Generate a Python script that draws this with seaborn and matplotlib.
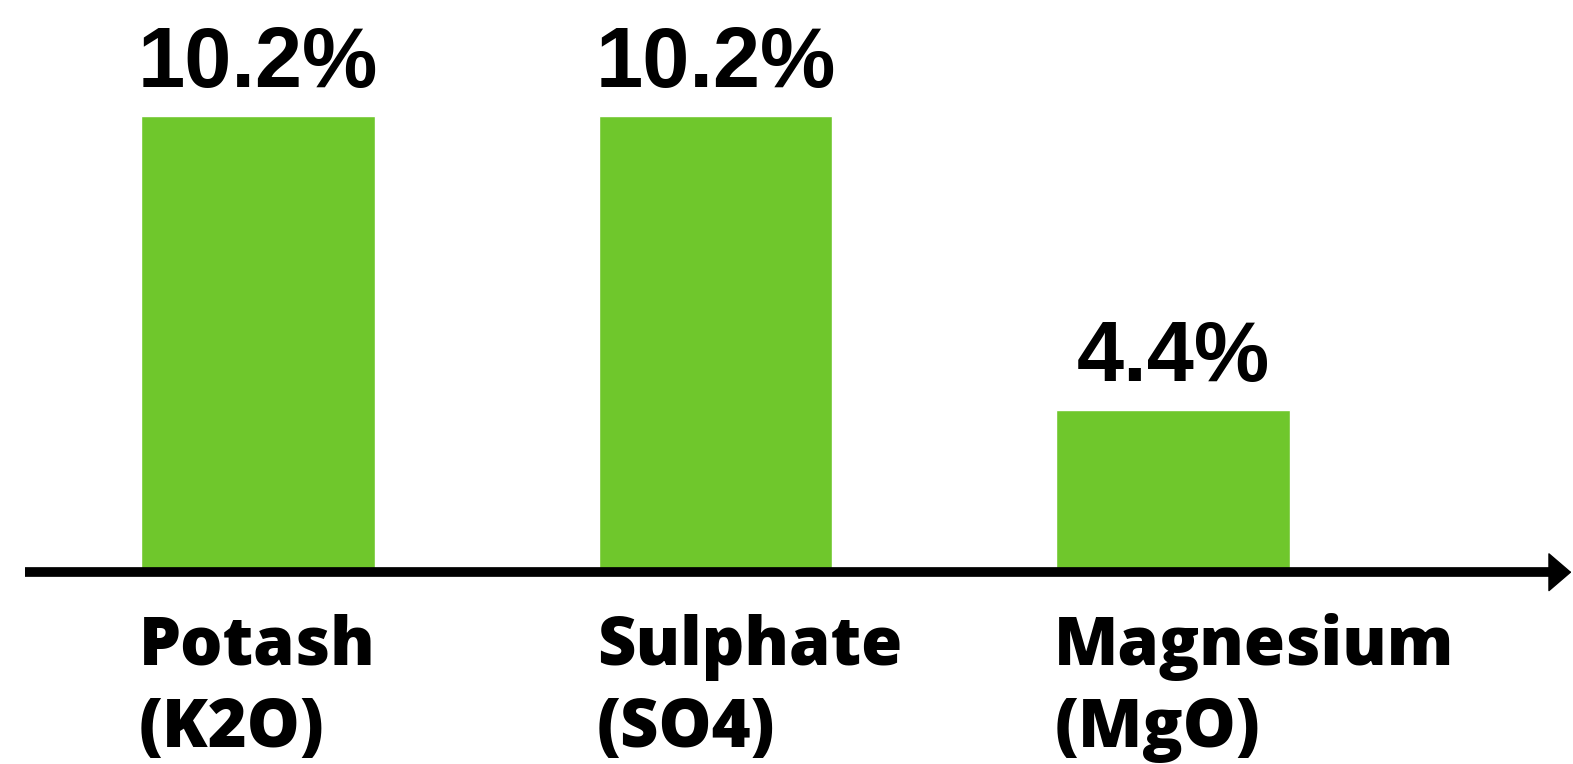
import matplotlib
matplotlib.use("Agg")
import matplotlib.pyplot as plt
import seaborn as sns
import pandas as pd

categories = ["Potash\n(K2O)", "Sulphate\n(SO4)", "Magnesium\n(MgO)"]
values = [10.2, 10.2, 4.4]
value_labels = ["10.2%", "10.2%", "4.4%"]

df = pd.DataFrame({"nutrient": categories, "share": values})

sns.set_theme(style="white")
plt.rcParams["font.family"] = ["Open Sans", "DejaVu Sans"]
plt.rcParams["text.color"] = "black"

fig = plt.figure(figsize=(15.73, 7.64), dpi=100)
ax = fig.add_axes([0, 0, 1, 1])
sns.barplot(data=df, x="nutrient", y="share", color="#6FC72C", saturation=1,
            width=0.51, ax=ax)

# bars sit on the arrow, not on zero
base = 1.2
for p in ax.patches:
    h = p.get_height()
    p.set_y(base)
    p.set_height(h - base)

ax.set_xlim(-0.564, 2.874)
ax.set_ylim(-2.584, 12.488)
ax.axis("off")

# value labels
for i, (v, lab) in enumerate(zip(values, value_labels)):
    ax.annotate(lab, (i, v), xytext=(0, 21), textcoords="offset points",
                ha="center", va="baseline", fontsize=61, fontweight="bold",
                color="black", family=["Liberation Sans", "DejaVu Sans"])

# category labels (baseline of the last line)
for i, cat in enumerate(categories):
    ax.text(i - 0.26, -2.25, cat, ha="left", va="baseline", fontsize=48,
            fontweight="heavy", color="black", linespacing=1.3)

# axis arrow: shaft + filled head
ax.plot([0.016, 0.99], [0.251, 0.251], transform=ax.transAxes, lw=7,
        color="black", solid_capstyle="butt")
ax.annotate("", xy=(0.999, 0.251), xytext=(0.975, 0.251),
            xycoords="axes fraction", textcoords="axes fraction",
            arrowprops=dict(arrowstyle="-|>,head_length=0.7,head_width=0.6",
                            lw=1, color="black", mutation_scale=22,
                            shrinkA=0, shrinkB=0))

fig.savefig("out.png", dpi=100)
